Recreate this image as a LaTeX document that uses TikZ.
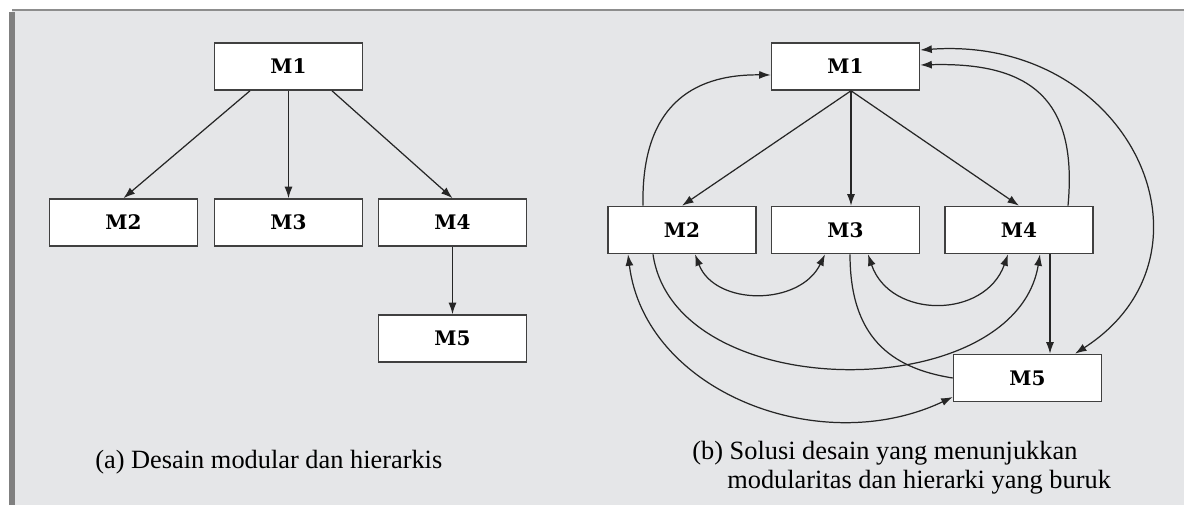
\documentclass[tikz,border=0pt]{standalone}
\usepackage{fontspec}
\setmainfont{Liberation Serif}
\newfontfamily\modfont{DejaVu Serif}
\usetikzlibrary{arrows.meta}
\definecolor{latar}{RGB}{229,230,232}
\definecolor{bingkai}{RGB}{128,128,128}

\begin{document}
\begin{tikzpicture}[
    modul/.style={draw=black!75, line width=0.9pt, fill=white, minimum width=2.96cm, minimum height=0.94cm, inner sep=0pt, font=\modfont\bfseries\fontsize{11.4}{13}\selectfont},
    panah/.style={-{Latex[length=2.3mm,width=1.6mm]}, draw=black!85, line width=0.7pt},
    panahdua/.style={{Latex[length=2.3mm,width=1.6mm]}-{Latex[length=2.3mm,width=1.6mm]}, draw=black!85, line width=0.7pt},
    garis/.style={draw=black!85, line width=0.7pt},
    keterangan/.style={font=\fontsize{15}{16.5}\selectfont, align=left, anchor=west, inner sep=0pt}
  ]
  % --- latar ---
  \useasboundingbox (0,0) rectangle (23.76,10.1);
  \fill[latar] (0.24,0) rectangle (23.68,9.9);
  \draw[bingkai!90, line width=1.4pt] (0.24,9.9) -- (23.68,9.9);
  \draw[bingkai, line width=3.4pt] (0.24,0) -- (0.24,9.85);

  % --- (a) Desain modular dan hierarkis ---
  \begin{scope}[xshift=0cm]
    \node[modul] (a1) at (5.77,8.77) {M1};
    \node[modul] (a2) at (2.47,5.65) {M2};
    \node[modul] (a3) at (5.77,5.65) {M3};
    \node[modul] (a4) at (9.05,5.65) {M4};
    \node[modul] (a5) at (9.05,3.33) {M5};
    \draw[panah] ([xshift=-0.77cm]a1.south) -- (a2.north);
    \draw[panah] (a1.south) -- (a3.north);
    \draw[panah] ([xshift=0.87cm]a1.south) -- (a4.north);
    \draw[panah] (a4.south) -- (a5.north);
    \node[keterangan] (ketA) at (1.9,0.86) {(a) Desain modular dan hierarkis};
  \end{scope}

  % --- (b) Solusi yang buruk ---
  \begin{scope}[xshift=11.14cm]
    \node[modul] (b1) at (5.77,8.77) {M1};
    \node[modul] (b2) at (2.5,5.5) {M2};
    \node[modul] (b3) at (5.77,5.5) {M3};
    \node[modul] (b4) at (9.24,5.5) {M4};
    \node[modul] (b5) at (9.41,2.54) {M5};
    % turun dari M1
    \draw[panah] ([xshift=0.11cm]b1.south) -- (b2.north);
    \draw[panah] ([xshift=0.11cm]b1.south) -- ([xshift=0.11cm]b3.north);
    \draw[panah] ([xshift=0.11cm]b1.south) -- (b4.north);
    \draw[panah] ([xshift=0.62cm]b4.south) -- ([xshift=0.62cm]b4.south |- b5.north);
    % balik ke M1
    \draw[panah] ([xshift=-0.78cm]b2.north) .. controls +(-0.04,1.94) and +(-1.62,0.02) .. ([yshift=-0.17cm]b1.west);
    \draw[panah] ([xshift=0.98cm]b4.north) .. controls +(0.2,2.14) and +(2.2,0.06) .. ([yshift=0.03cm]b1.east);
    \draw[panahdua] ([yshift=0.33cm]b1.east) .. controls +(4.2,0.3) and +(3.1,2.0) .. ([xshift=0.95cm]b5.north);
    % lengkung bawah
    \draw[panahdua] ([xshift=0.26cm]b2.south) .. controls +(0.4,-1.04) and +(-0.5,-1.04) .. ([xshift=-0.41cm]b3.south);
    \draw[panahdua] ([xshift=0.45cm]b3.south) .. controls +(0.44,-1.3) and +(-0.46,-1.3) .. ([xshift=-0.22cm]b4.south);
    \draw[panah] ([xshift=-0.58cm]b2.south) .. controls +(0.44,-3.04) and +(-0.5,-3.04) .. ([xshift=0.42cm]b4.south);
    \draw[panahdua] ([xshift=-1.08cm]b2.south) .. controls +(0.34,-2.74) and +(-2.66,-1.26) .. ([yshift=-0.38cm]b5.west);
    \draw[garis] ([xshift=0.09cm]b3.south) .. controls +(0,-1.64) and +(-1.26,0.2) .. (b5.west);
    \node[keterangan] (ketB) at (2.7,0.75) {(b) Solusi desain yang menunjukkan\\\hspace*{0.7cm}modularitas dan hierarki yang buruk};
  \end{scope}
\end{tikzpicture}
\end{document}
